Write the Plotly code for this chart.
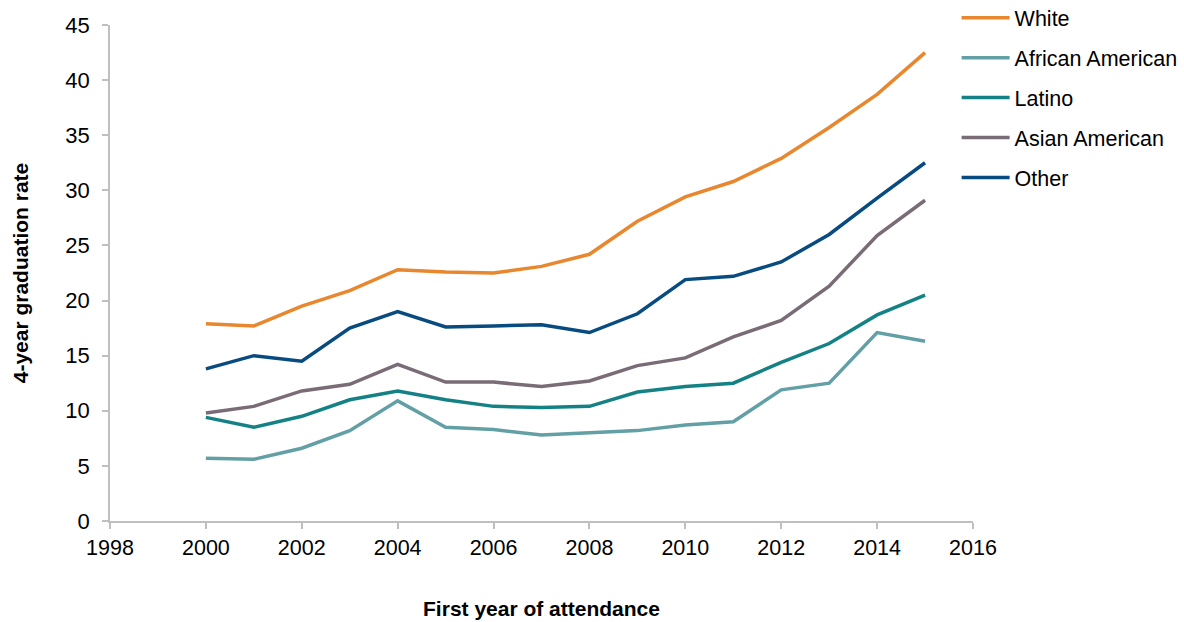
import plotly.graph_objects as go

years = list(range(2000, 2016))

white = [17.9, 17.7, 19.5, 20.9, 22.8, 22.6, 22.5, 23.1, 24.2, 27.2, 29.4, 30.8, 32.9, 35.7, 38.7, 42.5]
african_american = [5.7, 5.6, 6.6, 8.2, 10.9, 8.5, 8.3, 7.8, 8.0, 8.2, 8.7, 9.0, 11.9, 12.5, 17.1, 16.3]
latino = [9.4, 8.5, 9.5, 11.0, 11.8, 11.0, 10.4, 10.3, 10.4, 11.7, 12.2, 12.5, 14.4, 16.1, 18.7, 20.5]
asian_american = [9.8, 10.4, 11.8, 12.4, 14.2, 12.6, 12.6, 12.2, 12.7, 14.1, 14.8, 16.7, 18.2, 21.3, 25.9, 29.1]
other = [13.8, 15.0, 14.5, 17.5, 19.0, 17.6, 17.7, 17.8, 17.1, 18.8, 21.9, 22.2, 23.5, 26.0, 29.3, 32.5]

series = [
    ("White", white, "#E8872D"),
    ("African American", african_american, "#63A0A6"),
    ("Latino", latino, "#148284"),
    ("Asian American", asian_american, "#7A6C76"),
    ("Other", other, "#084B80"),
]

FONT = "Liberation Sans, Arial, sans-serif"
AXIS_GRAY = "#BFBFBF"

fig = go.Figure()
for name, vals, color in series:
    fig.add_trace(go.Scatter(
        x=years, y=vals, name=name, mode="lines",
        line=dict(color=color, width=3.5),
        legendgroup=name,
    ))

fig.update_layout(
    width=1184, height=622,
    margin=dict(l=110, r=211, t=25, b=101, autoexpand=False),
    paper_bgcolor="white", plot_bgcolor="white",
    font=dict(family=FONT, size=21, color="#000000"),
    showlegend=True,
    legend=dict(
        x=0.981, y=1.056, xanchor="left", yanchor="top",
        font=dict(size=21.5, color="#000000"),
        tracegroupgap=9,
        itemwidth=48,
        bgcolor="rgba(0,0,0,0)",
    ),
    xaxis=dict(
        range=[1998, 2016], dtick=2, tick0=1998,
        showline=True, linecolor=AXIS_GRAY, linewidth=1.5,
        ticks="outside", ticklen=6, tickcolor=AXIS_GRAY, tickwidth=1.5,
        showgrid=False, zeroline=False,
        tickfont=dict(size=21.5),
        ticklabelstandoff=0,
        title=dict(text="<b>First year of attendance</b>", font=dict(size=21), standoff=43),
    ),
    yaxis=dict(
        range=[0, 45], dtick=5,
        showline=True, linecolor=AXIS_GRAY, linewidth=1.5,
        ticks="outside", ticklen=6, tickcolor=AXIS_GRAY, tickwidth=1.5,
        showgrid=False, zeroline=False,
        tickfont=dict(size=22),
        ticklabelstandoff=8,
        title=dict(text="<b>4-year graduation rate</b>", font=dict(size=21), standoff=31),
    ),
)

fig.write_html("out.html")
